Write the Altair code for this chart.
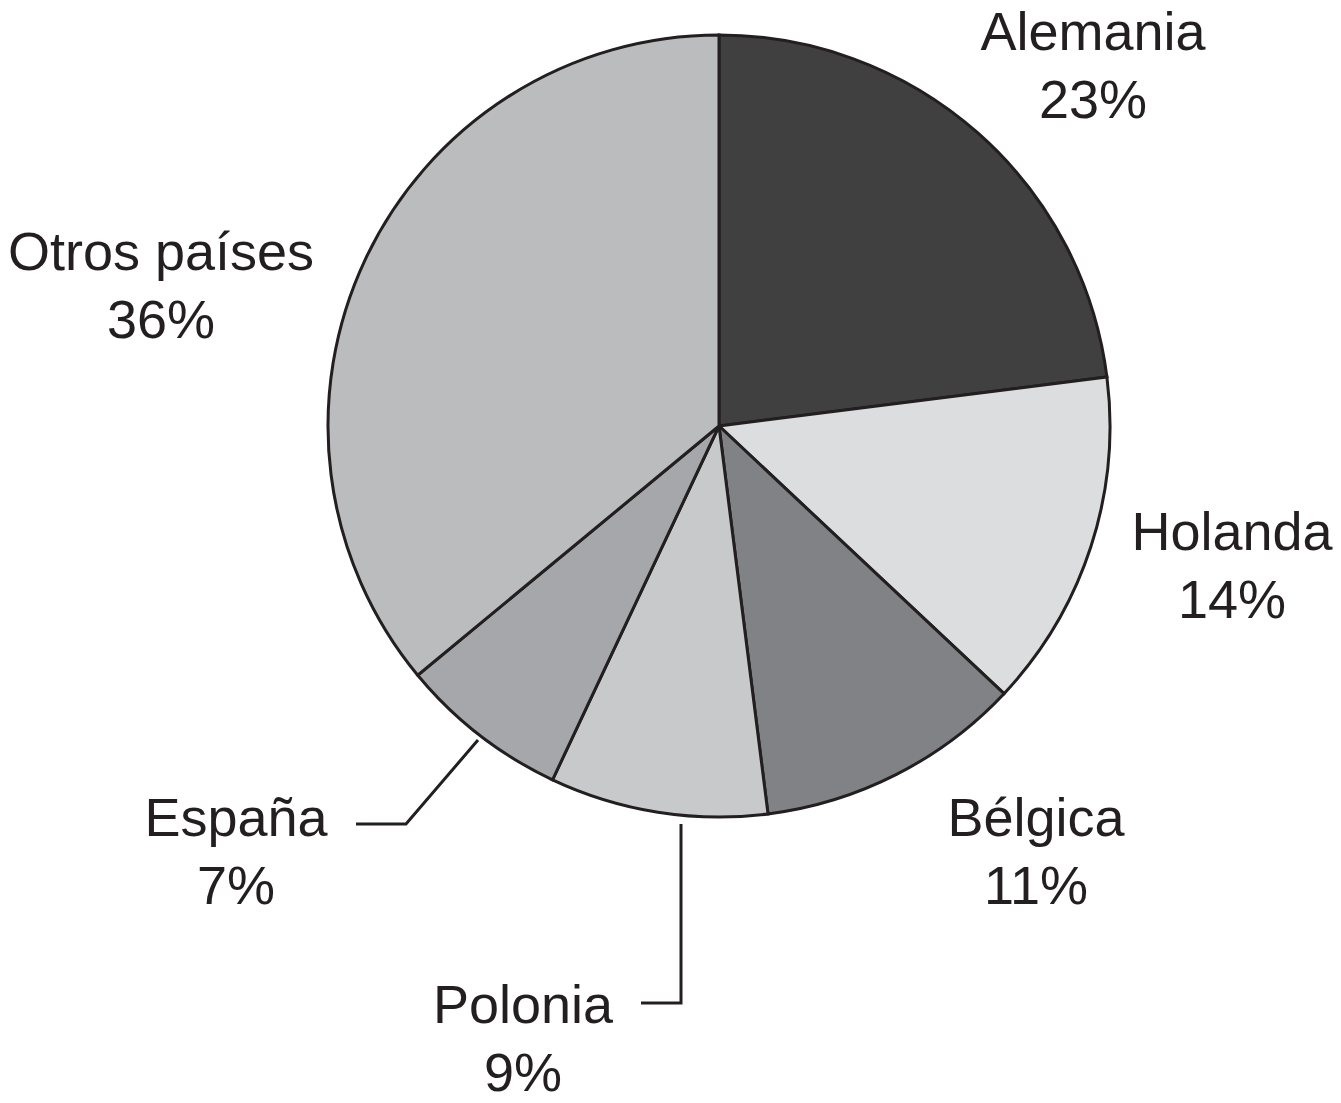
import math
import altair as alt
import pandas as pd

# ---- data ----
countries = ["Alemania", "Holanda", "Bélgica", "Polonia", "España", "Otros países"]
shares = [23, 14, 11, 9, 7, 36]
fills = ["#404040", "#dcdddf", "#818286", "#c8c9cb", "#a6a7aa", "#bbbcbe"]

# ---- layout (pixels, chart coordinates) ----
W, H = 1325, 1087
CX, CY = 711, 418
R = 391
INK = "#231f20"

# label anchors relative to pie centre (centre x, first baseline)
label_offsets = {
    "Alemania": (374, -376),
    "Holanda": (513, 124),
    "Bélgica": (317, 410),
    "Polonia": (-196, 597),
    "España": (-483, 410),
    "Otros países": (-558, -156),
}
# leader lines relative to pie centre
leader_offsets = {
    "España": [(-241, 314), (-313, 398), (-363, 398)],
    "Polonia": [(-38, 398), (-38, 577), (-78, 577)],
}

pie_df = pd.DataFrame({"country": countries, "share": shares, "idx": list(range(len(countries)))})

lab_df = pd.DataFrame({
    "label": [f"{c}\n{s}%" for c, s in zip(countries, shares)],
    "px": [CX + label_offsets[c][0] for c in countries],
    "py": [CY + label_offsets[c][1] for c in countries],
})

rows = []
for name, pts in leader_offsets.items():
    for i, (dx, dy) in enumerate(pts):
        rows.append({"leader": name, "k": i, "px": CX + dx, "py": CY + dy})
lead_df = pd.DataFrame(rows)

xs = alt.Scale(domain=[0, W], range=[0, W], nice=False, zero=False)
ys = alt.Scale(domain=[0, H], range=[0, H], nice=False, zero=False)

pie = alt.Chart(pie_df).mark_arc(radius=R, stroke=INK, strokeWidth=3).encode(
    theta=alt.Theta("share:Q", stack=True, scale=alt.Scale(range=[0, 2 * math.pi])),
    order=alt.Order("idx:Q"),
    color=alt.Color("country:N", scale=alt.Scale(domain=countries, range=fills), legend=None,
                    sort=countries),
    x=alt.value(CX),
    y=alt.value(CY),
)

labels = alt.Chart(lab_df).mark_text(
    font="Liberation Sans", fontSize=54, lineHeight=68, align="center",
    baseline="alphabetic", lineBreak="\n", color=INK,
).encode(
    x=alt.X("px:Q", scale=xs, axis=None),
    y=alt.Y("py:Q", scale=ys, axis=None),
    text="label:N",
)

leaders = alt.Chart(lead_df).mark_line(color=INK, strokeWidth=3, strokeCap="butt",
                                       strokeJoin="miter").encode(
    x=alt.X("px:Q", scale=xs, axis=None),
    y=alt.Y("py:Q", scale=ys, axis=None),
    detail="leader:N",
    order="k:Q",
)

chart = alt.layer(pie, leaders, labels).properties(
    width=W, height=H, autosize=alt.AutoSizeParams(type="none"), padding=0,
).configure_view(strokeWidth=0, strokeOpacity=0)

chart.save("out.html", embed_options={"renderer": "svg", "actions": False})
